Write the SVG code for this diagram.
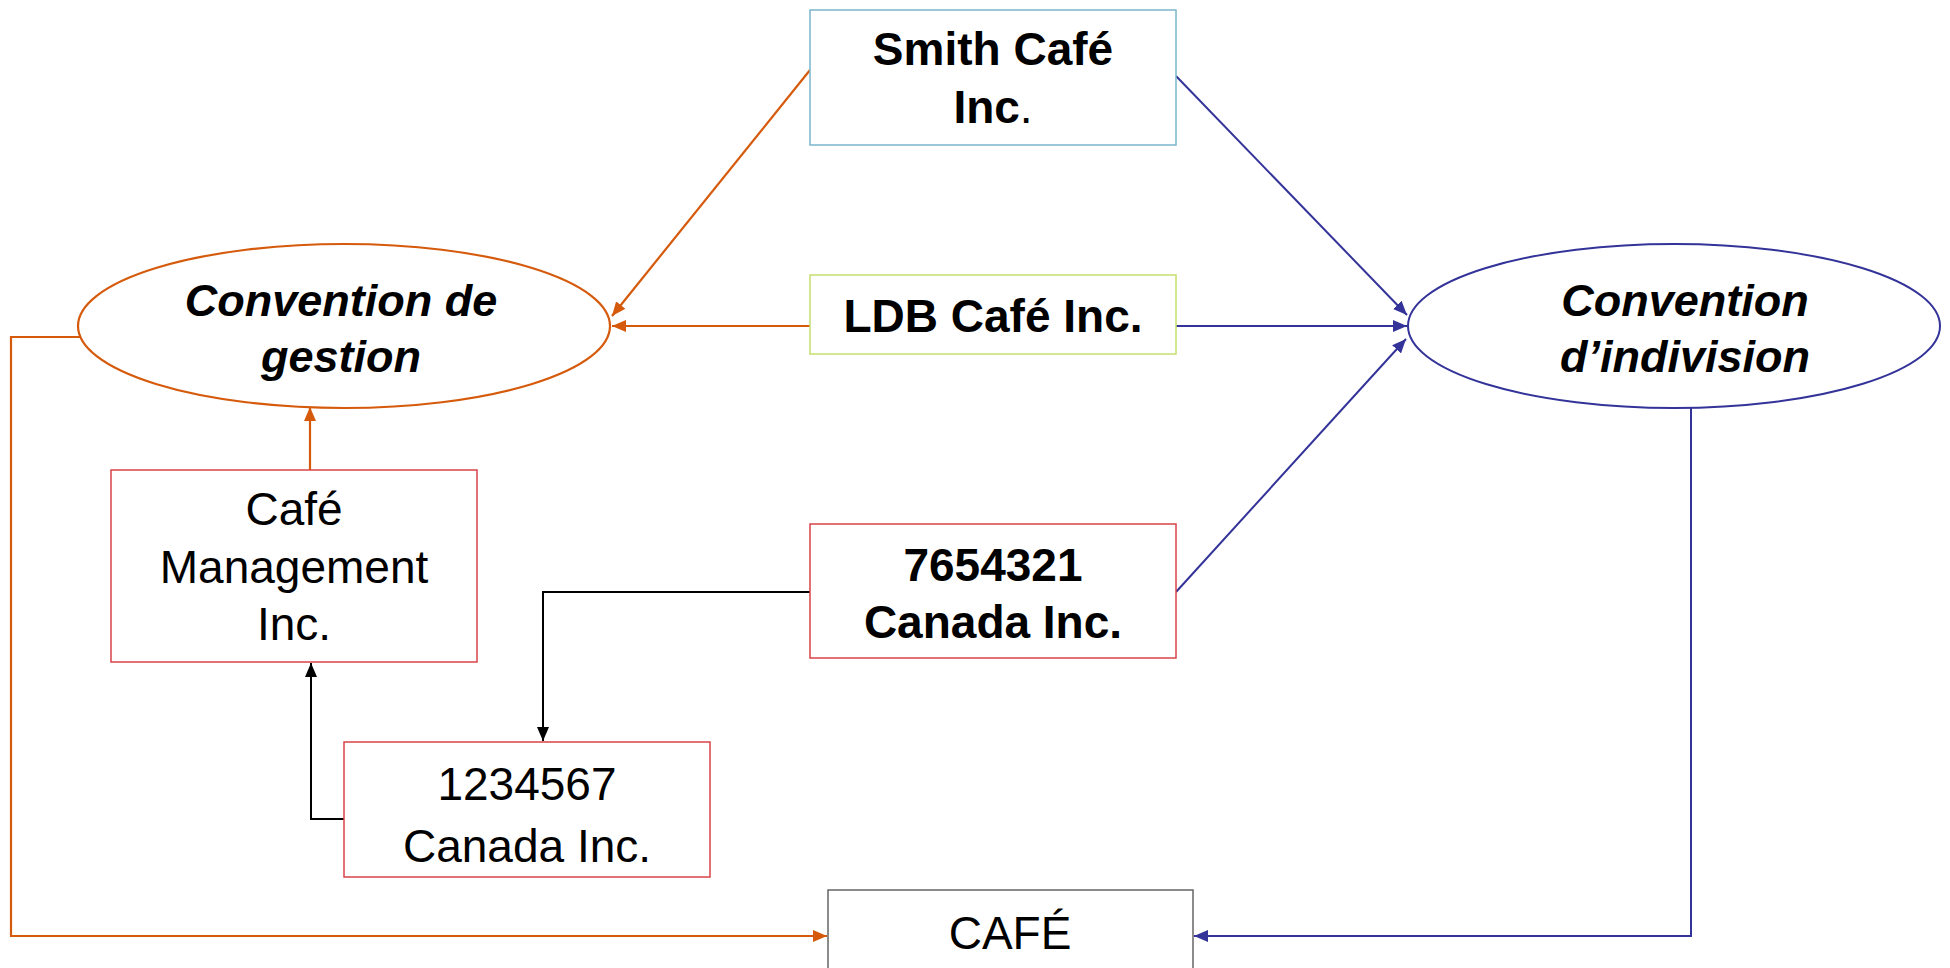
<svg xmlns="http://www.w3.org/2000/svg" width="1950" height="968" viewBox="0 0 1950 968">
<defs>
<style>
text{font-family:"Liberation Sans",Arial,sans-serif;font-size:46px;fill:#000;text-anchor:middle}
.b{font-weight:bold}
.bi{font-weight:bold;font-style:italic;font-size:45px}
.box{fill:#fff;stroke-width:1.5}
.or{stroke:#D55A0B;stroke-width:2.2;fill:none}
.bl{stroke:#333399;stroke-width:2;fill:none}
.bk{stroke:#000;stroke-width:2;fill:none}
</style>
<marker id="ao" viewBox="0 0 14 12" refX="14" refY="6" markerWidth="14" markerHeight="12" markerUnits="userSpaceOnUse" orient="auto"><path d="M0,0 L14,6 L0,12 z" fill="#D55A0B"/></marker>
<marker id="ab" viewBox="0 0 14 12" refX="14" refY="6" markerWidth="14" markerHeight="12" markerUnits="userSpaceOnUse" orient="auto"><path d="M0,0 L14,6 L0,12 z" fill="#333399"/></marker>
<marker id="ak" viewBox="0 0 14 12" refX="14" refY="6" markerWidth="14" markerHeight="12" markerUnits="userSpaceOnUse" orient="auto"><path d="M0,0 L14,6 L0,12 z" fill="#000"/></marker>
</defs>
<rect width="1950" height="968" fill="#fff"/>
<g id="connectors">
<path class="or" d="M810,70 L612,316" marker-end="url(#ao)"/>
<path class="or" d="M810,326 L612,326" marker-end="url(#ao)"/>
<path class="or" d="M310,470 L310,407" marker-end="url(#ao)"/>
<path class="or" d="M80,337 L11,337 L11,936 L827,936" marker-end="url(#ao)"/>
<path class="bl" d="M1176,76 L1407,315" marker-end="url(#ab)"/>
<path class="bl" d="M1176,326 L1407,326" marker-end="url(#ab)"/>
<path class="bl" d="M1176,592 L1406,339" marker-end="url(#ab)"/>
<path class="bl" d="M1691,405 L1691,936 L1194,936" marker-end="url(#ab)"/>
<path class="bk" d="M810,592 L543,592 L543,741" marker-end="url(#ak)"/>
<path class="bk" d="M344,819 L311,819 L311,663" marker-end="url(#ak)"/>
</g>
<g id="smith">
<rect class="box" x="810" y="10" width="366" height="135" stroke="#7AB6CC"/>
<text class="b" x="993" y="65">Smith Café</text>
<text class="b" x="993" y="123">Inc<tspan font-weight="normal">.</tspan></text>
</g>
<g id="ldb">
<rect class="box" x="810" y="275" width="366" height="79" stroke="#C4E06C"/>
<text class="b" x="993" y="332">LDB Café Inc.</text>
</g>
<g id="n7654321">
<rect class="box" x="810" y="524" width="366" height="134" stroke="#D9434A"/>
<text class="b" x="993" y="581">7654321</text>
<text class="b" x="993" y="638">Canada Inc.</text>
</g>
<g id="gestion">
<ellipse cx="344" cy="326" rx="266" ry="82" fill="#fff" stroke="#D55A0B" stroke-width="2.2"/>
<text class="bi" x="341" y="316">Convention de</text>
<text class="bi" x="341" y="372">gestion</text>
</g>
<g id="indivision">
<ellipse cx="1674" cy="326" rx="266" ry="82" fill="#fff" stroke="#333399" stroke-width="2"/>
<text class="bi" x="1685" y="316">Convention</text>
<text class="bi" x="1685" y="372">d’indivision</text>
</g>
<g id="cafemgmt">
<rect class="box" x="111" y="470" width="366" height="192" stroke="#D9434A"/>
<text x="294" y="525">Café</text>
<text x="294" y="583">Management</text>
<text x="294" y="640">Inc.</text>
</g>
<g id="n1234567">
<rect class="box" x="344" y="742" width="366" height="135" stroke="#D9434A"/>
<text x="527" y="800">1234567</text>
<text x="527" y="862">Canada Inc.</text>
</g>
<g id="cafe">
<rect class="box" x="828" y="890" width="365" height="110" stroke="#666"/>
<text x="1010" y="949">CAFÉ</text>
</g>
</svg>
